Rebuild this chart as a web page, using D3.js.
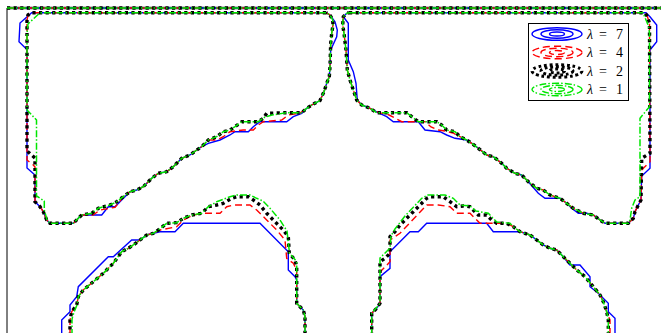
<!DOCTYPE html>
<html><head><meta charset="utf-8">
<script src="https://cdn.jsdelivr.net/npm/d3@7"></script>
<style>body{margin:0;background:#fff}svg{display:block}</style>
</head><body><svg id="c" width="661" height="333"></svg>
<script>
const lambdas = [7, 4, 2, 1];
const legendLabels = ["7", "4", "2", "1"];
const topBoundary = [[0,325],[654,325]];

const pocketL_7 = [[319,320.3],[24.7,320.3],[13,310],[12,291.3],[19.7,283.7],[20,281],[20,165],[28,158],[28,131.3],[33,126.3],[36.3,121.3],[39.7,113],[43,109.7],[66.3,109.7],[71.3,114.7],[74.7,118],[86.3,118],[94.7,118],[101.3,126.3],[108,126.3],[114.7,133],[123,141.3],[129.7,143],[136.3,146.3],[144.7,154.7],[151.3,159.7],[159.7,161.3],[166.3,166.3],[174.7,174.7],[183,178],[189.7,183],[194.7,186.3],[201.3,189.7],[213,193],[223,198],[228,201.3],[241.3,201.3],[246.3,206.3],[253,211.3],[279.7,211.3],[286.3,216.3],[294.7,219.7],[299.7,224.7],[304.7,228],[313,232.5],[317,241.3],[319.7,249.7],[322.3,256.3],[323,266.3],[323.7,283],[329.7,296.3],[330.3,303],[328,311.3],[323,318],[319,320.3]];
const pocketL_4 = [[319,320.3],[24,320.3],[21,318],[20,313],[20,173],[26.3,168],[28,166],[28,131.3],[33,126.3],[36.3,121.3],[39.7,113],[43,109.7],[66.3,109.7],[71.3,114.7],[74.7,118],[86,118],[93,123],[108,125.7],[111.3,129.7],[116.3,136.3],[123,141.3],[129.7,143],[136.3,146.3],[144.7,154.7],[151.3,159.7],[159.7,161.3],[166.3,166.3],[174.7,174.7],[183,178],[189.7,183],[194.7,186.3],[201.3,193],[209.7,193],[216.3,196.3],[223,201.3],[236.3,203],[246.3,203],[251.3,208],[256.3,211.3],[274.7,213],[281.3,218],[293,220],[299.7,224.7],[304.7,228],[313,232.5],[317,241.3],[319.7,249.7],[322.3,256.3],[323,266.3],[323.7,289.7],[324.7,299.7],[326,308],[325.7,313],[323,318],[319,320.3]];
const pocketL_2 = [[319,320.3],[24,320.3],[21,318],[20,313],[20,182],[28,175],[28,131.3],[33,126.3],[36.3,121.3],[39.7,113],[43,109.7],[66.3,109.7],[71.3,114.7],[74.7,118],[84.7,119.7],[91.3,124.7],[103,128],[109.7,131.3],[116.3,136.3],[123,141.3],[129.7,143],[136.3,146.3],[144.7,154.7],[151.3,159.7],[159.7,161.3],[166.3,166.3],[174.7,174.7],[183,178],[189.7,183],[194.7,186.3],[201.3,193],[209.7,196.3],[216.3,201.3],[223,203],[228,206.3],[234.7,211.3],[251.3,211.3],[256.3,214.7],[259.7,219.7],[279.7,220.3],[294.7,220.3],[299.7,224.7],[304.7,228],[313,232.5],[317,241.3],[319.7,249.7],[322.3,256.3],[323,266.3],[323.7,289.7],[324.7,299.7],[326,308],[325.7,313],[323,318],[319,320.3]];
const pocketL_1 = [[319,320.3],[33,320.3],[21,309],[20,300],[20,223],[29.5,213],[29.5,137],[37.3,132],[37.3,123],[40,113],[43,109.7],[66.3,109.7],[71.3,114.7],[74.7,118],[84.7,119.7],[91.3,124.7],[103,128],[109.7,131.3],[116.3,136.3],[123,141.3],[129.7,143],[136.3,146.3],[144.7,154.7],[151.3,159.7],[159.7,161.3],[166.3,166.3],[174.7,174.7],[183,178],[189.7,183],[194.7,186.3],[201.3,193],[209.7,196.3],[216.3,201.3],[223,203],[228,206.3],[234.7,211.3],[251.3,211.3],[258,216],[265,218],[279.7,220.3],[294.7,220.3],[299.7,224.7],[304.7,228],[313,232.5],[317,241.3],[319.7,249.7],[322.3,256.3],[323,266.3],[323.7,289.7],[324.7,299.7],[326,308],[325.7,313],[323,318],[319,320.3]];

const pocketR_7 = [[342,320.3],[639,320.3],[643,316.3],[649.7,308],[649.7,291.3],[643,283],[643,164.7],[634.7,157],[634,133],[631.3,128],[628,121.3],[626.3,114.7],[621.3,109.7],[598,109.7],[593,113],[586.3,118],[579.7,119.7],[571.3,119.7],[564.7,124.7],[559.7,129.7],[553,134.7],[546.3,134.7],[538,134.7],[531.3,139.7],[521.3,151.3],[514.7,158],[508,159.7],[499.7,164.7],[494.7,169.7],[486.3,176.3],[479.7,178],[471.3,184.7],[464.7,189.7],[459.7,193],[448,194.7],[439.7,198],[433,201.3],[418,203],[411.3,211.3],[386.3,211.3],[379.7,216.3],[371,220.3],[363,224.7],[354.7,228],[350.3,233],[349,249.7],[346.3,261.3],[341.3,273],[341.3,309.7],[336.3,316.3],[339.7,319.7],[342,320.3]];
const pocketR_4 = [[342,320.3],[638,320.3],[640.5,316.3],[642.5,309.7],[643,171.3],[636.3,164.7],[634.7,163],[634,133],[631.3,128],[628,121.3],[626.3,114.7],[621.3,109.7],[598,109.7],[593,113],[586.3,118],[576.3,119.7],[566.3,124.7],[559.7,129.7],[553,134.7],[543,138],[536.3,143],[529.7,144.7],[521.3,151.3],[514.7,158],[508,159.7],[499.7,164.7],[494.7,169.7],[486.3,176.3],[479.7,178],[471.3,184.7],[464.7,189.7],[459.7,193],[453,196.3],[446,200],[438,202],[431,203],[424,206],[418,211.3],[394.7,211.3],[388,215],[381,218.5],[372,220.3],[363,224.7],[354.7,228],[349.7,233],[346.3,243],[343,253],[340.3,263],[339,283],[337,299.7],[335.7,308],[336.3,316.3],[339.7,319.7],[342,320.3]];
const pocketR_2 = [[342,320.3],[638,320.3],[640.5,316.3],[642.5,309.7],[643,179.7],[634.7,174.7],[634,133],[631.3,128],[628,121.3],[626.3,114.7],[621.3,109.7],[598,109.7],[593,113],[586.3,118],[576.3,119.7],[566.3,124.7],[559.7,129.7],[553,134.7],[543,138],[536.3,143],[529.7,144.7],[521.3,151.3],[514.7,158],[508,159.7],[499.7,164.7],[494.7,169.7],[486.3,176.3],[479.7,178],[471.3,184.7],[464.7,189.7],[459.7,193],[453,196.3],[448,201.3],[439.7,203],[434.7,208],[429.7,211.3],[411.3,211.3],[404.7,216.3],[399.7,220.3],[369.7,220.3],[363,224.7],[354.7,228],[349.7,233],[346.3,243],[343,253],[340.3,263],[339,283],[337,299.7],[335.7,308],[336.3,316.3],[339.7,319.7],[342,320.3]];
const pocketR_1 = [[342,320.3],[636,320.3],[641.5,307],[642.5,300],[642.5,226.3],[633,214.7],[633,136.3],[628,133],[624.7,124.7],[623,113],[621.3,109.7],[598,109.7],[593,113],[586.3,118],[576.3,119.7],[566.3,124.7],[559.7,129.7],[553,134.7],[543,138],[536.3,143],[529.7,144.7],[521.3,151.3],[514.7,158],[508,159.7],[499.7,164.7],[494.7,169.7],[486.3,176.3],[479.7,178],[471.3,184.7],[464.7,189.7],[459.7,193],[453,196.3],[448,201.3],[439.7,203],[434.7,208],[429.7,211.3],[411.3,211.3],[404.7,216.3],[399.7,220.3],[369.7,220.3],[363,224.7],[354.7,228],[349.7,233],[346.3,243],[343,253],[340.3,263],[339,283],[337,299.7],[335.7,308],[336.3,316.3],[339.7,319.7],[342,320.3]];

const archL_7 = [[54.7,-3],[54.7,13],[63,21.3],[63,28],[69.7,36.3],[71.3,46.3],[101.3,76.3],[106.3,76.3],[124.7,93],[133,93],[139.7,98],[146.3,99.7],[153,101.3],[168,101.3],[176.3,109.7],[253,109.7],[281.3,81.3],[281.3,63],[288,56.3],[289.7,53],[289.7,29.7],[293,26.3],[296.3,23],[298,16.3],[298,-3]];
const archL_4 = [[63,-3],[63,13],[64.7,21.3],[69.7,28],[71.3,36.3],[76.3,43],[86.3,51.3],[96.3,59.7],[106.3,69.7],[114.7,81.3],[121.3,84.7],[126.3,88],[133,93],[139.7,98],[146.3,99.7],[153,103],[169.7,106.3],[176.3,113],[186.3,118],[196.3,119.7],[213,119.7],[219.7,126.3],[226.3,128],[243,128],[249.7,123],[259.7,113],[269.7,103],[278,93],[279.7,74.7],[286.3,69.7],[289.7,63],[289.7,29.7],[293,26.3],[296.3,23],[298,16.3],[298,-3]];
const archL_2 = [[63,-3],[63,13],[64.7,21.3],[69.7,28],[71.3,36.3],[76.3,43],[86.3,51.3],[96.3,59.7],[106.3,69.7],[114.7,81.3],[121.3,84.7],[126.3,88],[133,93],[139.7,98],[146.3,99.7],[151.3,103],[159.7,109.7],[169.7,110.3],[176.3,114.7],[184.7,118],[194.7,119.7],[201.3,126.3],[209.7,128],[216.3,129.7],[224.7,134.7],[229.7,136.3],[241.3,136.3],[246.3,133],[253,128],[259.7,119.7],[268,111.3],[276.3,103],[281.3,96.3],[282.3,79.7],[288,73],[289.7,66.3],[289.7,29.7],[293,26.3],[296.3,23],[298,16.3],[298,-3]];
const archL_1 = [[65,-3],[65,14],[67,21],[70,28],[71.3,36.3],[76.3,43],[86.3,51.3],[96.3,59.7],[106.3,69.7],[114.7,81.3],[121.3,84.7],[126.3,88],[133,93],[139.7,98],[146.3,99.7],[151.3,103],[159.7,109.7],[169.7,110.3],[176.3,114.7],[184.7,118],[194.7,119.7],[201.3,126.3],[209.7,131.3],[223,136.3],[229.7,138],[243,138],[249.7,134.7],[256,132],[263,124.7],[273,113],[280,102],[282.5,80],[289.7,71.3],[289.7,29.7],[293,26.3],[296.3,23],[298,16.3],[298,-3]];

const archR_7 = [[364.7,-3],[364.7,19.7],[369.7,24.7],[373,29.7],[373,56.3],[383,64.7],[383,81.3],[403,101.3],[411.3,101.3],[419.7,109.7],[479.7,109.7],[486.3,101.3],[509.7,101.3],[513,101.3],[523,98],[529.7,93],[536.3,88],[543,84.7],[549.7,83],[556.3,76.3],[563,68],[573,68],[583,56.3],[583,46.3],[591,40],[601.3,29.7],[601.3,21.3],[608,14.7],[608,-3]];
const archR_4 = [[364.7,-3],[364.7,19.7],[369.7,24.7],[373,29.7],[373,61],[379,67],[383,71.3],[383,93],[393,99.7],[419.7,128],[431.3,128],[443,126.3],[449.7,119.7],[463,119.7],[473,109.7],[499.7,109.7],[506.3,106.3],[513,101.3],[523,98],[529.7,93],[536.3,88],[543,84.7],[549.7,83],[556.3,76.3],[563,69.7],[569.7,63],[578,56.3],[586.3,46.3],[593,38],[596.3,31.3],[599.7,21.3],[603,13],[603,-3]];
const archR_2 = [[364.7,-3],[364.7,19.7],[369.7,24.7],[373,29.7],[373,71.3],[378,74.7],[383,79.7],[383,96.3],[388,101.3],[393,108],[399.7,114.7],[406.3,121.3],[413,128],[419.7,134.7],[423,136.3],[436.3,136.3],[443,131.3],[449.7,126.3],[456.3,127],[463,126.3],[468,121.3],[471.3,118],[479.7,118],[484.7,113],[489.7,109.7],[499.7,109.7],[506.3,106.3],[513,101.3],[523,98],[529.7,93],[536.3,88],[543,84.7],[549.7,83],[556.3,76.3],[563,69.7],[569.7,63],[578,56.3],[586.3,46.3],[593,38],[596.3,31.3],[599.7,21.3],[601.3,13],[601.3,-3]];
const archR_1 = [[364.7,-3],[364.7,19.7],[371,27],[373,29.7],[373,75],[383,85],[384,97],[388,104],[398,117],[414.7,134.7],[421,138],[438,138],[446.3,134.7],[453,128],[463,127],[469,122],[481.3,119.7],[489.7,111],[503,109.7],[506.3,106.3],[513,101.3],[523,98],[529.7,93],[536.3,88],[543,84.7],[549.7,83],[556.3,76.3],[563,69.7],[569.7,63],[578,56.3],[586.3,46.3],[593,38],[596.3,31.3],[599.7,21.3],[601.3,13],[601.3,-3]];

const shapesByLambda = {
  7: [topBoundary, pocketL_7, pocketR_7, archL_7, archR_7],
  4: [topBoundary, pocketL_4, pocketR_4, archL_4, archR_4],
  2: [topBoundary, pocketL_2, pocketR_2, archL_2, archR_2],
  1: [topBoundary, pocketL_1, pocketR_1, archL_1, archR_1]
};

const styles = {
  7: {color: "#0000ff", width: 1.4, dash: null},
  4: {color: "#ff0000", width: 1.4, dash: "7,4"},
  2: {color: "#000000", width: 3.4, dash: "3.2,3.4"},
  1: {color: "#00e600", width: 1.5, dash: "7,2,1.5,2"}
};

const svg = d3.select("#c");
const x = d3.scaleLinear().domain([0, 654]).range([7, 661]);
const y = d3.scaleLinear().domain([0, 325]).range([333, 8]);
const line = d3.line().x(d => x(d[0])).y(d => y(d[1]));

// axes frame (left and top)
svg.append("line").attr("x1", x(0)).attr("x2", x(0)).attr("y1", y(325)).attr("y2", y(0))
  .attr("stroke", "#000").attr("stroke-width", 1);
svg.append("line").attr("x1", x(0)).attr("x2", x(654)).attr("y1", y(325)).attr("y2", y(325))
  .attr("stroke", "#333").attr("stroke-width", 2.5);

lambdas.forEach(l => {
  const s = styles[l];
  const g = svg.append("g");
  shapesByLambda[l].forEach(pts => {
    g.append("path").attr("d", line(pts)).attr("fill", "none")
      .attr("stroke", s.color).attr("stroke-width", s.width)
      .attr("stroke-dasharray", s.dash).attr("stroke-linejoin", "miter");
  });
});

// legend
const lg = svg.append("g");
lg.append("rect").attr("x", 528.5).attr("y", 23.5).attr("width", 100).attr("height", 77)
  .attr("fill", "#fff").attr("stroke", "#000").attr("stroke-width", 1);
lambdas.forEach((l, i) => {
  const s = styles[l];
  const cy = 34 + i * 18.5;
  [[25, 6.3], [16, 4.2], [7.5, 2]].forEach(([rx, ry]) => {
    lg.append("ellipse").attr("cx", 557).attr("cy", cy).attr("rx", rx).attr("ry", ry)
      .attr("fill", "none").attr("stroke", s.color)
      .attr("stroke-width", l === 2 ? 3 : 1.4)
      .attr("stroke-dasharray", l === 2 ? "2.8,2.8" : s.dash);
  });
  const t = lg.append("text").attr("y", cy + 4.5)
    .attr("font-family", "'Liberation Serif', 'DejaVu Serif', serif").attr("font-size", 14).attr("fill", "#000");
  t.append("tspan").attr("x", 587).attr("font-style", "italic").text("λ");
  t.append("tspan").attr("x", 599).text("=");
  t.append("tspan").attr("x", 616).text(legendLabels[i]);
});
</script>
</body></html>
